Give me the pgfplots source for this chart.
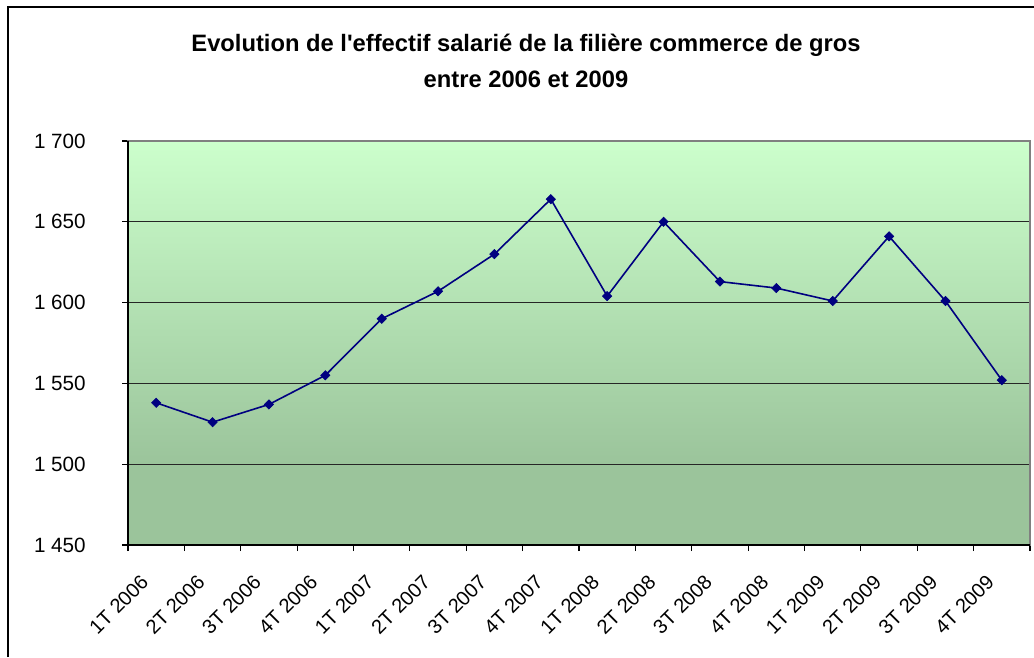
\documentclass[border=0pt]{standalone}
\usepackage{pgfplots}
\pgfplotsset{compat=1.18}
\usepackage{fontspec}
\setmainfont{Liberation Sans}[Ligatures=TeXOff]
\definecolor{topc}{RGB}{204,255,204}
\definecolor{botc}{RGB}{155,196,155}
\definecolor{navyc}{RGB}{0,0,128}
\pgfdeclareverticalshading{bgsh}{100bp}{color(0bp)=(botc); color(25bp)=(botc); color(35bp)=(botc); color(75bp)=(topc); color(100bp)=(topc)}
\begin{document}
\begin{tikzpicture}[x=0.75pt,y=0.75pt]
\path[use as bounding box] (0,0) rectangle (1034,657);
\draw[line width=1.5pt] (8,0) -- (8,650) -- (1034,650);
\node[font=\bfseries\fontsize{17.8}{20}\selectfont, anchor=base, inner sep=0pt] at (526,605) {Evolution de l'effectif salarié de la filière commerce de gros};
\node[font=\bfseries\fontsize{17.8}{20}\selectfont, anchor=base, inner sep=0pt] at (526,569) {entre 2006 et 2009};
\begin{axis}[at={(96pt,84pt)}, anchor=south west, scale only axis,
  width=676.5pt, height=303pt,
  xmin=-0.5, xmax=15.5, ymin=1450, ymax=1700,
  ytick={1450,1500,1550,1600,1650,1700},
  yticklabels={1 450,1 500,1 550,1 600,1 650,1 700},
  xtick={-0.5,0.5,...,15.5}, xticklabels={},
  extra x ticks={0,1,...,15},
  extra x tick labels={1T 2006,2T 2006,3T 2006,4T 2006,1T 2007,2T 2007,3T 2007,4T 2007,1T 2008,2T 2008,3T 2008,4T 2008,1T 2009,2T 2009,3T 2009,4T 2009},
  extra x tick style={major tick length=0pt, grid=none},
  tick align=outside, tick pos=left,
  major tick length=4.5pt,
  tick style={black, line width=0.8pt},
  ymajorgrids, grid style={black!85, line width=0.8pt},
  axis line style={draw=black!50, line width=1.1pt},
  axis background/.style={shading=bgsh},
  ticklabel style={font=\fontsize{15.5}{17}\selectfont},
  yticklabel style={anchor=east, inner sep=0pt, xshift=-27pt},
  xticklabel style={font=\fontsize{15}{17}\selectfont, xshift=-8.5pt, yshift=-25pt, rotate=45, anchor=east, inner sep=0pt},
  clip=false,
]
\addplot[navyc, line width=1.2pt, mark=square*, mark size=2.45pt, mark options={rotate=45, fill=navyc, draw=navyc, line width=0.5pt}] coordinates {
(0,1538) (1,1526) (2,1537) (3,1555) (4,1590) (5,1607) (6,1630) (7,1664)
(8,1604) (9,1650) (10,1613) (11,1609) (12,1601) (13,1641) (14,1601) (15,1552)};
\draw[black, line width=1.1pt] (rel axis cs:0,1) -- (rel axis cs:0,0) -- (rel axis cs:1,0);
\end{axis}
\end{tikzpicture}
\end{document}
